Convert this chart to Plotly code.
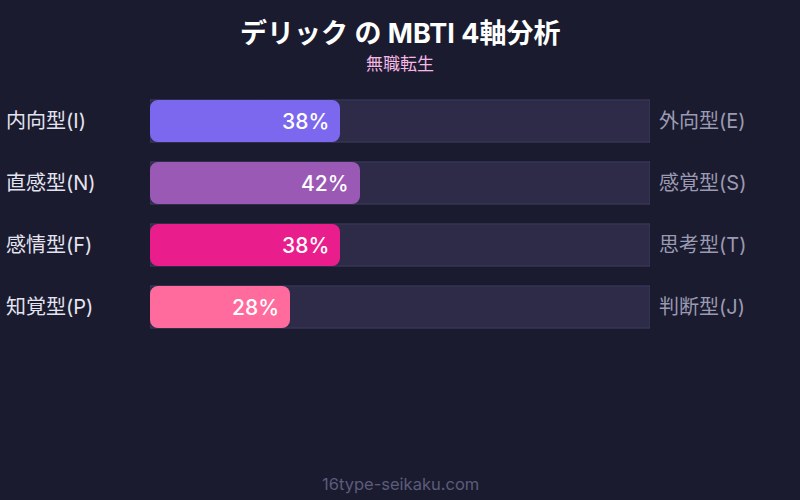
import plotly.graph_objects as go

left_labels = ["内向型(I)", "直感型(N)", "感情型(F)", "知覚型(P)"]
right_labels = ["外向型(E)", "感覚型(S)", "思考型(T)", "判断型(J)"]
values = [38, 42, 38, 28]
colors = ["#7b68ee", "#9b59b6", "#e91e8c", "#ff6b9d"]
track_max = [100, 100, 100, 100]

FONT = "Inter, 'Noto Sans CJK JP', sans-serif"
ys = list(range(len(values)))

fig = go.Figure()
# background track
fig.add_trace(go.Bar(
    x=track_max, y=ys, orientation="h", width=0.68,
    marker=dict(color="#2d2b48", line=dict(color="#3e3c60", width=1)),
    hoverinfo="skip", showlegend=False, xaxis="x", yaxis="y",
))
# value bar, drawn as two overlapping halves so both ends get rounded corners
fig.add_trace(go.Bar(
    x=[v * 0.6 for v in values], base=[v * 0.4 for v in values], y=ys, orientation="h", width=0.68,
    marker=dict(color=colors, line=dict(width=0), cornerradius=8),
    hoverinfo="skip", showlegend=False, xaxis="x2", yaxis="y2",
))
fig.add_trace(go.Bar(
    x=[-v * 0.6 for v in values], base=[v * 0.6 for v in values], y=ys, orientation="h", width=0.68,
    marker=dict(color=colors, line=dict(width=0), cornerradius=8),
    hoverinfo="skip", showlegend=False, xaxis="x3", yaxis="y3",
))

annotations = []
for i, (v, l, r) in enumerate(zip(values, left_labels, right_labels)):
    annotations.append(dict(x=v, y=i, xref="x", yref="y", text=f"{v}%", showarrow=False,
                            xanchor="right", xshift=-9,
                            font=dict(family=FONT, size=21, color="#ffffff", weight=500)))
    annotations.append(dict(x=0, y=i, xref="paper", yref="y", text=l, showarrow=False,
                            xanchor="left", xshift=-146,
                            font=dict(family=FONT, size=20, color="#e4e4f0")))
    annotations.append(dict(x=1, y=i, xref="paper", yref="y", text=r, showarrow=False,
                            xanchor="left", xshift=7,
                            font=dict(family=FONT, size=20, color="#9a9ab2")))

annotations.append(dict(x=0.5, y=33, xref="paper", yref="paper", text="<b>デリック の MBTI 4軸分析</b>",
                        showarrow=False, font=dict(family=FONT, size=27, color="#ffffff")))
annotations.append(dict(x=0.5, y=64, xref="paper", yref="paper", text="無職転生",
                        showarrow=False, font=dict(family=FONT, size=17, color="#f5b8e6")))
annotations.append(dict(x=0.5, y=484, xref="paper", yref="paper", text="16type-seikaku.com",
                        showarrow=False, font=dict(family=FONT, size=16.5, color="#5c5c7c")))

# convert pixel y positions for title/subtitle/footer to paper coords
H, T, B = 500, 90, 162
ph = H - T - B
for a in annotations[-3:]:
    a["y"] = (H - B - a["y"]) / ph
    a["yanchor"] = "middle"

xr = [0, 100]
yr = [3.5, -0.5]
ax = dict(range=xr, visible=False, fixedrange=True)
ay = dict(range=yr, visible=False, fixedrange=True)
fig.update_layout(
    width=800, height=500,
    margin=dict(l=150, r=150, t=T, b=B),
    paper_bgcolor="#1a1b2e", plot_bgcolor="#1a1b2e",
    xaxis=ax, yaxis=ay,
    xaxis2=dict(ax, overlaying="x"), yaxis2=dict(ay, overlaying="y"),
    xaxis3=dict(ax, overlaying="x"), yaxis3=dict(ay, overlaying="y"),
    annotations=annotations,
    font=dict(family=FONT),
)

fig.write_html("out.html", config={"displayModeBar": False},
               post_script="document.body.style.margin='0';document.body.style.background='#1a1b2e';")
